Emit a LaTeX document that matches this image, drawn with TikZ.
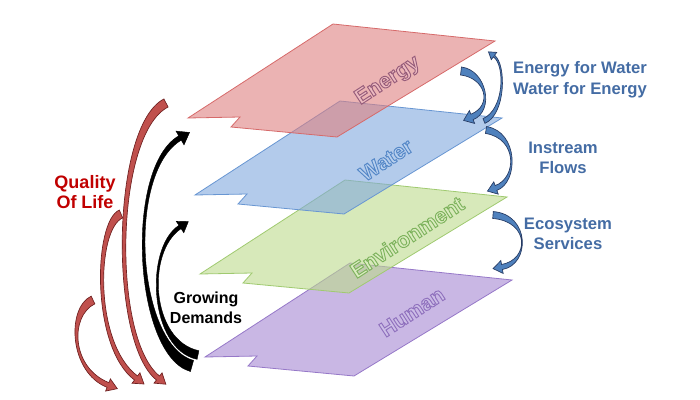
\documentclass[tikz,border=0pt]{standalone}
\usepackage{fontspec}
\setmainfont{Liberation Sans}
\usetikzlibrary{calc}

\definecolor{fillenergy}{RGB}{222,128,128}
\definecolor{lineenergy}{RGB}{214,106,106}
\definecolor{textenergy}{RGB}{236,186,192}
\definecolor{fillwater}{RGB}{128,168,222}
\definecolor{linewater}{RGB}{104,150,210}
\definecolor{textwater}{RGB}{184,208,238}
\definecolor{fillenv}{RGB}{188,218,140}
\definecolor{lineenv}{RGB}{160,202,112}
\definecolor{textenv}{RGB}{218,236,192}
\definecolor{fillhuman}{RGB}{165,135,210}
\definecolor{linehuman}{RGB}{150,120,200}
\definecolor{texthuman}{RGB}{204,190,230}
\definecolor{linkblue}{RGB}{79,129,189}
\definecolor{linkrim}{RGB}{38,58,98}
\definecolor{lifered}{RGB}{192,80,77}
\definecolor{liferim}{RGB}{110,32,32}
\definecolor{labelblue}{RGB}{68,108,164}
\definecolor{qualityred}{RGB}{192,0,0}

% letters filled with the current colour and stroked with the rgb given
\newcommand{\hollow}[2]{\special{pdf:literal direct 2 Tr 0.7 w #1 RG}#2\special{pdf:literal direct 0 Tr}}

% tapered bent arrow: style, tail, control 1, control 2, head base,
% half width at tail, half width at head, head half width, head length
\newcommand{\bentarrow}[9]{%
  \coordinate (ta) at (#2);
  \coordinate (tc) at (#3);
  \coordinate (td) at (#4);
  \coordinate (tb) at (#5);
  \filldraw[#1] ($(ta)!#6!90:(tc)$) .. controls ($(tc)!#6!-90:(ta)$) and ($(td)!#7!90:(tb)$) .. ($(tb)!#7!-90:(td)$)
    -- ($(tb)!#8!-90:(td)$) -- ($(tb)!#9!180:(td)$) -- ($(tb)!#8!90:(td)$) -- ($(tb)!#7!90:(td)$)
    .. controls ($(td)!#7!-90:(tb)$) and ($(tc)!#6!90:(ta)$) .. ($(ta)!#6!-90:(tc)$) -- cycle;
}

\begin{document}
\begin{tikzpicture}[x=0.75pt,y=-0.75pt,
  plane/.style={line width=0.6pt,fill opacity=0.6},
  layer/.style={rotate=33,font=\bfseries\fontsize{16}{16}\selectfont},
  side/.style={align=center,font=\bfseries\fontsize{12.5}{15.5}\selectfont},
  bluearrow/.style={fill=linkblue,draw=linkrim,line width=0.5pt},
  redarrow/.style={fill=lifered,draw=liferim,line width=0.5pt},
  blackarrow/.style={fill=black,draw=black,line width=0.3pt}]
  \useasboundingbox (0,0) rectangle (700,400);

  % the four layers, bottom first
  \foreach \lx/\ly/\col/\word/\rim/\tx/\ty in {205/357/human/Human/.56 .44 .74/412/312,
      200/274/env/Environment/.49 .70 .36/407/237, 195/195/water/Water/.33 .53 .78/386/160,
      188/118/energy/Energy/.59 .36 .48/388/81}{
    \filldraw[plane,fill=fill\col,draw=line\col] (\lx,\ly) -- ++(52,-1) -- ++(-9,10)
      -- ++(106,10) -- ++(158,-96) -- ++(-162,-17) -- cycle;
    \node[layer,text=text\col] (\col) at (\tx,\ty) {\hollow{\rim}{\word}};
  }

  % links between layers
  \bentarrow{bluearrow}{461,71}{486,74}{494,108}{472,117}{3pt}{2.2pt}{5.2pt}{6.8pt}
  \bentarrow{bluearrow}{484,121}{505,112}{506,65}{494,56}{1.9pt}{0.7pt}{3.4pt}{5.2pt}
  \bentarrow{bluearrow}{486,130}{518,135}{518,180}{496,188}{2.6pt}{1.9pt}{4.9pt}{6.8pt}
  \bentarrow{bluearrow}{493,215}{530,218}{530,262}{502,267}{2.6pt}{1.9pt}{4.9pt}{6.8pt}

  \node[side,text=labelblue] (efw) at (580,80) {Energy for Water\\Water for Energy};
  \node[side,text=labelblue] (flows) at (563,158) {Instream\\Flows};
  \node[side,text=labelblue] (eco) at (568,234) {Ecosystem\\Services};

  % quality of life
  \bentarrow{redarrow}{93,300}{68,312}{70,370}{108,385}{3.2pt}{1.9pt}{4.9pt}{7.5pt}
  \bentarrow{redarrow}{121,214}{95,225}{92,345}{136,378}{3.2pt}{1.9pt}{4.9pt}{7.5pt}
  \bentarrow{redarrow}{166,103}{113,130}{110,340}{158,378}{3.4pt}{1.9pt}{4.9pt}{7.5pt}
  \node[side,text=qualityred,font=\bfseries\fontsize{13.5}{15.5}\selectfont] (life) at (85,192) {Quality\\Of Life};

  % growing demands
  \bentarrow{blackarrow}{192,366}{135,350}{125,170}{180,138}{4.3pt}{1.9pt}{6pt}{8.3pt}
  \bentarrow{blackarrow}{198,355}{150,345}{145,250}{180,227}{3.3pt}{1.5pt}{5.2pt}{7.5pt}
  \node[side,text=black,font=\bfseries\fontsize{12}{15}\selectfont] (demand) at (206,308) {Growing\\Demands};
\end{tikzpicture}
\end{document}
